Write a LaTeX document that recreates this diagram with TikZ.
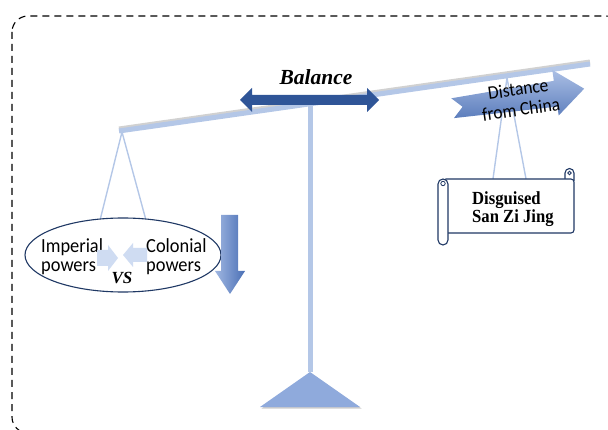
\documentclass[tikz,border=0pt]{standalone}
\usepackage{fontspec}
\setmainfont{Liberation Serif}
\newfontfamily\carlito[FakeStretch=0.92]{Carlito}
\newfontfamily\narrowserif[FakeStretch=0.9]{Liberation Serif}
\usetikzlibrary{shapes.geometric}
\definecolor{beamc}{HTML}{B4C7E7}
\definecolor{navy}{HTML}{1F3864}
\definecolor{darkb}{HTML}{2F5597}
\definecolor{midb}{HTML}{8FAADC}
\definecolor{deepb}{HTML}{4A6FB5}
\definecolor{lightb}{HTML}{CFDCF2}
\tikzset{
  beamline/.style={draw=beamc, line width=5pt},
  shadowline/.style={draw=black!18, line width=5pt},
  hanger/.style={draw=beamc, line width=1.4pt},
  outline/.style={draw=navy, line width=1.1pt, fill=white},
  sanstext/.style={font=\carlito\fontsize{20}{22}\selectfont, inner sep=0pt, anchor=base west},
  scrolltext/.style={font=\narrowserif\bfseries\fontsize{18.5}{20}\selectfont, inner sep=0pt, anchor=base west},
  lightarrow/.style={fill=lightb, draw=none},
}
\begin{document}
\begin{tikzpicture}[x=1pt, y=-1pt]
\useasboundingbox (0,0) rectangle (608,430);
\clip (0,0) rectangle (608,430);
% dashed frame
\draw[dash pattern=on 7pt off 5pt, line width=1.1pt, draw=black, rounded corners=16pt] (12,16) rectangle (622,433);

% beam coordinates
\coordinate (bl) at (119,131);
\coordinate (br) at (590,64);
\coordinate (pivot) at (310,104);
\coordinate (apex) at (310,372);
\coordinate (lh) at (122,132);
\coordinate (rh) at (507,78);

% beam with shadow
\draw[shadowline] ([yshift=2pt]bl) -- ([yshift=2pt]br);
\draw[beamline] (bl) -- (br);
% post
\draw[beamline] (pivot) -- (apex);
% base triangle
\fill[black!20] (261.5,408.5) -- (311.5,373.5) -- (361.5,408.5) -- cycle;
\fill[midb] (260,407) -- (apex) -- (360,407) -- cycle;

% Balance arrow
\fill[darkb] (240,100) -- (252,88) -- (252,95) -- (367,95) -- (367,88) -- (379,100) -- (367,112) -- (367,105) -- (252,105) -- (252,112) -- cycle;
\node[font=\bfseries\itshape\fontsize{21.5}{24}\selectfont, inner sep=0pt] (bal) at (316,77) {Balance};

% left pan: ellipse
\node[ellipse, minimum width=196pt, minimum height=74pt, inner sep=0pt] (pow) at (123,255) {};
\draw[hanger] (lh) -- (pow.122);
\draw[hanger] (lh) -- (pow.58);
\node[ellipse, outline, minimum width=196pt, minimum height=74pt, inner sep=0pt] at (pow.center) {};
\node[sanstext] (imp1) at (41,253) {Imperial};
\node[sanstext] (imp2) at (41,272) {powers};
\node[sanstext] (col1) at (146,253) {Colonial};
\node[sanstext] (col2) at (146,272) {powers};
\fill[lightarrow] (97,250) -- (108,250) -- (108,245) -- (118,258) -- (108,271) -- (108,266) -- (97,266) -- cycle;
\fill[lightarrow] (147,248) -- (133,248) -- (133,243) -- (123,255) -- (133,267) -- (133,262) -- (147,262) -- cycle;
\node[font=\bfseries\itshape\fontsize{17}{19}\selectfont, inner sep=0pt, anchor=base] (vs) at (122,284) {VS};

% down arrow
\shade[left color=midb!85, right color=deepb] (221,215) -- (238,215) -- (238,271) -- (245,271) -- (230,294) -- (215,271) -- (221,271) -- cycle;

% right pan: scroll
\node[minimum width=131pt, minimum height=53pt, inner sep=0pt] (scr) at (509,205.5) {};
\draw[hanger] (rh) -- ([xshift=-16pt]scr.north);
\draw[hanger] (rh) -- ([xshift=17pt]scr.north);
% right top curl
\draw[outline] (565,179) -- (565,173) arc[start angle=180, end angle=0, radius=4.5pt] -- (574,181);
\draw[outline, rounded corners=3pt] (443,179) -- (574,179) -- (574,233) -- (443,233) -- cycle;
\draw[navy, line width=0.8pt] (569.5,173) circle[radius=1.8pt];
% left roll
\draw[outline] (438,240) -- (438,184) arc[start angle=180, end angle=0, radius=5pt] -- (448,240) arc[start angle=0, end angle=-180, radius=5pt];
\draw[navy, line width=0.8pt, fill=white] (443,183.5) circle[radius=2.2pt];
\node[scrolltext] (dsz1) at (472,205) {Disguised};
\node[scrolltext] (dsz2) at (472,223) {San Zi Jing};

% Distance from China arrow
\begin{scope}[shift={(518,99)}, rotate=8, transform shape]
  \shade[top color=midb!75, bottom color=deepb!90] (-66,-10) -- (38,-13) -- (38,-24) -- (67,-1) -- (38,22) -- (38,13) -- (-66,10) -- (-56,0) -- cycle;
  \node[font=\carlito\fontsize{19}{20.5}\selectfont, inner sep=0pt, align=center] (dist) at (1.5,0.5) {Distance\\from China};
\end{scope}
\end{tikzpicture}
\end{document}
